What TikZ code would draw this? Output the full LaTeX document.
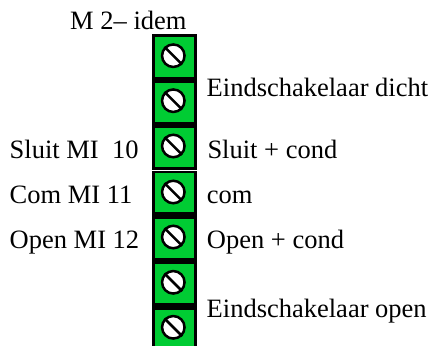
\documentclass[tikz,border=0pt]{standalone}
\usepackage{fontspec}
\setmainfont{Liberation Serif}
\definecolor{termgreen}{RGB}{0,204,51}
\tikzset{
  x=1pt,y=-1pt,
  lbl/.style={inner sep=0pt,anchor=base west,font=\fontsize{26.5}{28}\selectfont},
  cell/.style={fill=termgreen,draw=none},
  screwhead/.style={circle,draw=black,fill=white,line width=2.5pt,minimum size=22.5pt,inner sep=0pt},
  slot/.style={draw=black,line width=2.5pt}
}
\newcommand{\terminal}[4]{%
  \fill[cell] (155.3,#1) rectangle (194,#2);
  \node[screwhead] (s#3) at (173.3,#4) {};
  \draw[slot] (s#3.135) -- (s#3.315);
}
\begin{document}
\begin{tikzpicture}
\useasboundingbox (0,0) rectangle (430,346);
\fill[black] (152.3,34) rectangle (196.7,169.5);
\fill[black] (152.3,171.2) rectangle (196.7,346);
\terminal{37.3}{76.7}{1}{55.7}
\terminal{82.7}{122}{2}{100.7}
\terminal{128}{166.7}{3}{146}
\terminal{173.3}{212.3}{4}{192}
\terminal{218.7}{258}{5}{237}
\terminal{264}{303.3}{6}{282.3}
\terminal{309.7}{346}{7}{327.3}
\node[lbl] (t0) at (70,29) {M 2– idem};
\node[lbl] (t1) at (206.5,96.7) {Eindschakelaar dicht};
\node[lbl] (t2) at (207.3,158) {Sluit + cond};
\node[lbl] (t3) at (206.7,203) {com};
\node[lbl] (t4) at (206.7,248) {Open + cond};
\node[lbl] (t5) at (206.5,317) {Eindschakelaar open};
\node[lbl] (t6) at (9.5,158) {Sluit MI\ \ 10};
\node[lbl] (t7) at (9.5,203) {Com MI 11};
\node[lbl] (t8) at (9.5,248) {Open MI 12};
\end{tikzpicture}
\end{document}
